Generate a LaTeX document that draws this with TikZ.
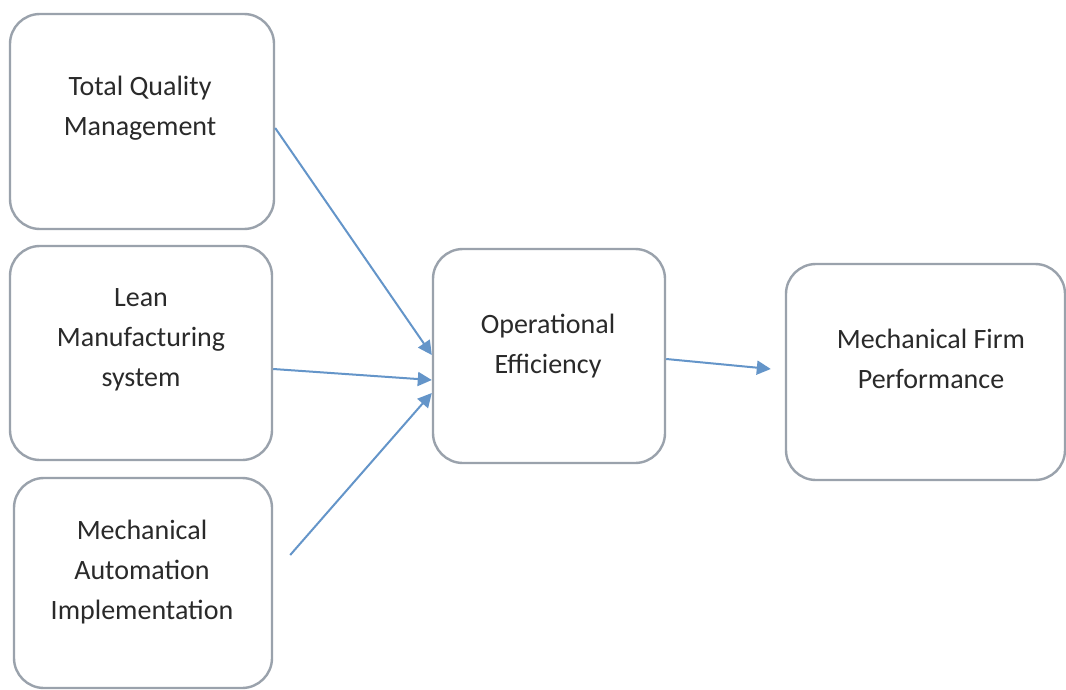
\documentclass[tikz,border=0pt]{standalone}
\usepackage{fontspec}
\setmainfont{Carlito}
\usetikzlibrary{arrows.meta}

\definecolor{boxgray}{HTML}{9AA2AC}
\definecolor{arrowblue}{HTML}{6495C9}
\definecolor{textgray}{HTML}{2A2A2A}

\tikzset{
  box/.style={draw=boxgray, line width=2.4pt, rounded corners=30pt, inner sep=0pt},
  txt/.style={align=center, text=textgray, font=\fontsize{28}{40}\selectfont},
  link/.style={-{Triangle[length=14pt,width=14pt]}, draw=arrowblue, line width=2pt}
}

\begin{document}
\begin{tikzpicture}[x=1pt,y=1pt]
  \useasboundingbox[fill=white] (0,0) rectangle (1066,-690);
  % boxes
  \node[box, minimum width=264pt, minimum height=215pt] (tqm) at (142,-121.5) {};
  \node[box, minimum width=262pt, minimum height=214pt] (lean) at (141,-353) {};
  \node[box, minimum width=258pt, minimum height=210pt] (mai) at (143,-583) {};
  \node[box, minimum width=232pt, minimum height=214pt] (ope) at (549,-356) {};
  \node[box, minimum width=279pt, minimum height=216pt] (mfp) at (925.5,-372) {};
  % labels sit a little above the box centres
  \node[txt] (tqm-t) at ([shift={(-2pt,13.5pt)}]tqm) {Total Quality\\Management};
  \node[txt] (lean-t) at ([yshift=13pt]lean) {Lean\\Manufacturing\\system};
  \node[txt] (mai-t) at ([shift={(-1pt,11pt)}]mai) {Mechanical\\Automation\\Implementation};
  \node[txt] (ope-t) at ([shift={(-1pt,10pt)}]ope) {Operational\\Efficiency};
  \node[txt] (mfp-t) at ([shift={(5.5pt,13pt)}]mfp) {Mechanical Firm\\Performance};
  % links
  \draw[link] ([yshift=-6.5pt]tqm.east) -- ([yshift=1pt]ope.west);
  \draw[link] ([yshift=-16pt]lean.east) -- ([yshift=-24pt]ope.west);
  \draw[link] ([shift={(17pt,28pt)}]mai.east) -- ([yshift=-37pt]ope.west);
  \draw[link] ([yshift=-3pt]ope.east) -- ([shift={(-14pt,3pt)}]mfp.west);
\end{tikzpicture}
\end{document}
